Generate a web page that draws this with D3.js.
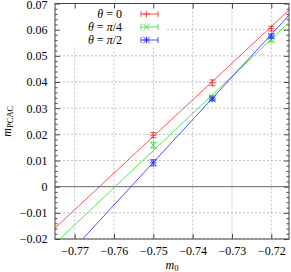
<!DOCTYPE html>
<html>
<head>
<meta charset="utf-8">
<script src="https://cdn.jsdelivr.net/npm/d3@7"></script>
<style>
  body { margin: 0; background: #fff; }
  text { font-family: "Liberation Serif", "DejaVu Serif", serif; fill: #000; }
</style>
</head>
<body>
<div id="chart"></div>
<script>
// data
var m0Values = [-0.75, -0.735, -0.72];
var seriesNames = ["0", "π/4", "π/2"];
var theta0 = [0.0197, 0.0397, 0.0604];
var theta0Err = [0.0010, 0.0011, 0.0009];
var thetaPi4 = [0.0159, 0.0341, 0.0562];
var thetaPi4Err = [0.0011, 0.0007, 0.0009];
var thetaPi2 = [0.0091, 0.0335, 0.0575];
var thetaPi2Err = [0.0012, 0.0007, 0.0008];
// linear fits: slope and zero crossing (critical m0)
var fitSlope = [1.40, 1.42, 1.63];
var fitM0c = [-0.7637, -0.7597, -0.7557];
var xTicks = [-0.77, -0.76, -0.75, -0.74, -0.73, -0.72];
var yTicks = [-0.02, -0.01, 0, 0.01, 0.02, 0.03, 0.04, 0.05, 0.06, 0.07];

var colors = ["#ff3030", "#30e030", "#3030ff"];
var markers = ["plus", "cross", "star"];

var svgWidth = 291;
var svgHeight = 272;
var margin = { top: 3.5, right: 2, bottom: 33, left: 55 };
var width = svgWidth - margin.left - margin.right;
var height = svgHeight - margin.top - margin.bottom;

var svg = d3.select("#chart")
  .append("svg")
  .attr("width", svgWidth)
  .attr("height", svgHeight);

var chartGroup = svg.append("g")
  .attr("transform", `translate(${margin.left}, ${margin.top})`);

var xScale = d3.scaleLinear().domain([-0.775, -0.7155]).range([0, width]);
var yScale = d3.scaleLinear().domain([-0.02, 0.07]).range([height, 0]);

// clip for lines
chartGroup.append("clipPath").attr("id", "plotclip")
  .append("rect").attr("width", width).attr("height", height);

// grid
chartGroup.append("g").selectAll("line.gx")
  .data(xTicks).enter().append("line")
  .attr("x1", d => xScale(d)).attr("x2", d => xScale(d))
  .attr("y1", 0).attr("y2", height)
  .attr("stroke", "#b0b0b0").attr("stroke-width", 0.8)
  .attr("stroke-dasharray", "2,2");
chartGroup.append("g").selectAll("line.gy")
  .data(yTicks.filter(d => d !== 0)).enter().append("line")
  .attr("x1", 0).attr("x2", width)
  .attr("y1", d => yScale(d)).attr("y2", d => yScale(d))
  .attr("stroke", "#b0b0b0").attr("stroke-width", 0.8)
  .attr("stroke-dasharray", "2,2");

// legend background hides grid
chartGroup.append("rect")
  .attr("x", 0).attr("y", 0)
  .attr("width", 110).attr("height", 43)
  .attr("fill", "#fff");

// zero line
chartGroup.append("line")
  .attr("x1", 0).attr("x2", width)
  .attr("y1", yScale(0)).attr("y2", yScale(0))
  .attr("stroke", "#666").attr("stroke-width", 1);

// axes: ticks inside on all sides
var bottomAxis = d3.axisBottom(xScale).tickValues(xTicks).tickSize(-5).tickPadding(7)
  .tickFormat(d => d3.format(".2f")(d).replace("-", "\u2212"));
var leftAxis = d3.axisLeft(yScale).tickValues(yTicks).tickSize(-5).tickPadding(7.5)
  .tickFormat(d => d === 0 ? "0" : d3.format(".2f")(d).replace("-", "\u2212"));

var xAxis = chartGroup.append("g")
  .attr("transform", `translate(0, ${height})`)
  .call(bottomAxis);
var yAxis = chartGroup.append("g").call(leftAxis);
chartGroup.append("g").call(d3.axisTop(xScale).tickValues(xTicks).tickSize(-5).tickFormat(""));
chartGroup.append("g").attr("transform", `translate(${width}, 0)`)
  .call(d3.axisRight(yScale).tickValues(yTicks).tickSize(-5).tickFormat(""));

// minor ticks
var yMinor = d3.range(-0.02, 0.0701, 0.002).filter(v => Math.abs(Math.round(v * 100) - v * 100) > 1e-6);
chartGroup.append("g").call(d3.axisLeft(yScale).tickValues(yMinor).tickSize(-2.5).tickFormat(""));
chartGroup.append("g").attr("transform", `translate(${width}, 0)`)
  .call(d3.axisRight(yScale).tickValues(yMinor).tickSize(-2.5).tickFormat(""));

[xAxis, yAxis].forEach(function(a) {
  a.selectAll("text").style("font-size", "12px");
});
// keep the top label inside the window
yAxis.selectAll(".tick text").filter(d => d === 0.07).attr("dy", "0.45em");
chartGroup.selectAll(".domain").attr("stroke", "none");
chartGroup.selectAll(".tick line").attr("stroke", "#444");

// frame
chartGroup.append("rect")
  .attr("width", width).attr("height", height)
  .attr("fill", "none").attr("stroke", "#444").attr("stroke-width", 1);

// fit lines
var dom = xScale.domain();
var fitGroup = chartGroup.append("g").attr("clip-path", "url(#plotclip)");
fitSlope.forEach(function(s, i) {
  fitGroup.append("line")
    .attr("x1", xScale(dom[0])).attr("x2", xScale(dom[1]))
    .attr("y1", yScale(s * (dom[0] - fitM0c[i])))
    .attr("y2", yScale(s * (dom[1] - fitM0c[i])))
    .attr("stroke", colors[i]).attr("stroke-width", 0.85);
});

function drawMarker(g, type, cx, cy, color) {
  var r = 3.3;
  var p = "";
  if (type === "plus" || type === "star") p += `M${cx - r},${cy}H${cx + r}M${cx},${cy - r}V${cy + r}`;
  if (type === "cross" || type === "star") p += `M${cx - r},${cy - r}L${cx + r},${cy + r}M${cx - r},${cy + r}L${cx + r},${cy - r}`;
  g.append("path").attr("d", p).attr("stroke", color).attr("stroke-width", 0.9).attr("fill", "none");
}

// data points with error bars
var allSeries = [
  { vals: theta0, errs: theta0Err },
  { vals: thetaPi4, errs: thetaPi4Err },
  { vals: thetaPi2, errs: thetaPi2Err }
];
allSeries.forEach(function(s, i) {
  var g = chartGroup.append("g");
  m0Values.forEach(function(m, j) {
    var cx = xScale(m);
    var yTop = yScale(s.vals[j] + s.errs[j]);
    var yBot = yScale(s.vals[j] - s.errs[j]);
    g.append("path")
      .attr("d", `M${cx},${yTop}V${yBot}M${cx - 3},${yTop}H${cx + 3}M${cx - 3},${yBot}H${cx + 3}`)
      .attr("stroke", colors[i]).attr("stroke-width", 0.85).attr("fill", "none");
    drawMarker(g, markers[i], cx, yScale(s.vals[j]), colors[i]);
  });
});

// legend
var legend = chartGroup.append("g");
seriesNames.forEach(function(name, i) {
  var ly = 10.5 + i * 13;
  var t = legend.append("text")
    .attr("x", 67).attr("y", ly + 4.3)
    .attr("text-anchor", "end")
    .style("font-size", "12px");
  t.append("tspan").style("font-style", "italic").text("θ");
  t.append("tspan").text(" = ");
  if (name === "0") {
    t.append("tspan").text("0");
  } else {
    t.append("tspan").style("font-style", "italic").text("π");
    t.append("tspan").text(name.slice(1));
  }
  legend.append("path")
    .attr("d", `M86,${ly}H103M86,${ly - 3}V${ly + 3}M103,${ly - 3}V${ly + 3}`)
    .attr("stroke", colors[i]).attr("stroke-width", 0.85).attr("fill", "none");
  drawMarker(legend, markers[i], 91.5, ly, colors[i]);
});

// axis labels
var xl = svg.append("text")
  .attr("x", margin.left + width / 2).attr("y", 268.5)
  .attr("text-anchor", "middle").style("font-size", "12px");
xl.append("tspan").style("font-style", "italic").text("m");
xl.append("tspan").attr("dy", 2.5).style("font-size", "8.5px").text("0");

var yl = svg.append("text")
  .attr("transform", `translate(10.5, ${margin.top + height / 2}) rotate(-90)`)
  .attr("text-anchor", "middle").style("font-size", "12px");
yl.append("tspan").style("font-style", "italic").text("m");
yl.append("tspan").attr("dy", 2.5).style("font-size", "8.5px").text("PCAC");
</script>
</body>
</html>
